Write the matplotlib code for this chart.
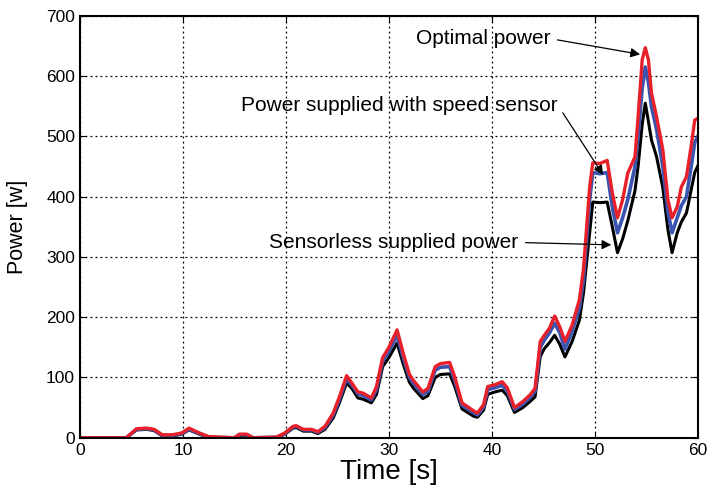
import matplotlib
matplotlib.use('Agg')
import matplotlib.pyplot as plt

plt.rcParams['font.family'] = ['Liberation Sans', 'DejaVu Sans']

# time axis [s]
t = [0, 4.5, 5.5, 6.5, 7.2, 8.0, 9.0, 9.9, 10.6, 11.6,
     12.5, 15.0, 15.5, 16.2, 16.8, 19.1, 19.9, 20.7, 21.0, 21.7,
     22.5, 23.1, 23.8, 24.6, 25.2, 25.9, 26.4, 27.0, 27.5, 28.3,
     28.8, 29.4, 30.0, 30.8, 31.4, 32.0, 32.4, 33.3, 33.8, 34.5,
     35.0, 35.9, 36.4, 37.1, 38.2, 38.6, 39.2, 39.6, 40.3, 41.0,
     41.5, 42.2, 43.0, 43.7, 44.2, 44.7, 45.1, 45.6, 46.1, 46.6,
     47.1, 47.8, 48.5, 48.9, 49.5, 49.8, 50.5, 51.2, 51.7, 52.2,
     52.7, 53.2, 53.9, 54.2, 54.6, 54.9, 55.2, 55.5, 56.0, 56.6,
     57.1, 57.5, 58.0, 58.4, 58.9, 59.4, 59.7, 60.0]

# optimal power [W]
optimal = [0, 0, 15, 16, 14, 5, 5, 8, 16, 8,
           2, 0, 6, 6, 0, 1, 8, 19, 20, 14,
           14, 10, 19, 41, 68, 103, 91, 76, 74, 66,
           85, 133, 150, 179, 140, 105, 95, 76, 82, 118,
           123, 125, 101, 58, 45, 41, 55, 85, 88, 93,
           83, 50, 60, 71, 82, 160, 170, 182, 202, 184,
           160, 187, 229, 280, 416, 456, 455, 460, 406, 365,
           395, 439, 466, 532, 627, 647, 627, 572, 532, 478,
           395, 365, 383, 416, 433, 489, 527, 530]

# power supplied with speed sensor [W]
with_sensor = [0, 0, 14, 15, 13, 4, 4, 7, 14, 7,
               1, 0, 5, 5, 0, 1, 7, 18, 19, 13,
               13, 9, 17, 38, 64, 98, 88, 73, 70, 63,
               80, 127, 143, 170, 133, 100, 90, 72, 77, 112,
               117, 118, 95, 54, 42, 38, 51, 80, 83, 87,
               78, 47, 56, 67, 77, 150, 162, 174, 190, 174,
               147, 177, 215, 262, 395, 440, 438, 440, 383, 340,
               365, 395, 450, 500, 580, 615, 590, 549, 511, 450,
               375, 340, 365, 385, 400, 455, 490, 500]

# sensorless supplied power [W]
sensorless = [0, 0, 13, 14, 12, 3, 3, 6, 13, 6,
              0, 0, 4, 4, 0, 0, 6, 16, 17, 11,
              11, 7, 14, 33, 58, 91, 82, 66, 64, 58,
              72, 118, 133, 157, 122, 92, 82, 65, 70, 100,
              105, 106, 85, 48, 36, 34, 46, 72, 76, 79,
              70, 42, 50, 60, 68, 135, 148, 158, 170, 155,
              134, 160, 195, 240, 340, 391, 390, 391, 350, 307,
              330, 360, 410, 450, 520, 555, 525, 494, 466, 415,
              345, 307, 340, 358, 373, 415, 440, 451]

fig = plt.figure(figsize=(7.07, 4.93), dpi=100)
ax = fig.add_axes([0.113, 0.112, 0.874, 0.856])

ax.plot(t, sensorless, color='black', lw=2.2)
ax.plot(t, with_sensor, color='#3a55b0', lw=2.6)
ax.plot(t, optimal, color='#e8202a', lw=2.4)

ax.set_xlim(0, 60)
ax.set_ylim(0, 700)
ax.set_xticks(range(0, 61, 10))
ax.set_yticks(range(0, 701, 100))
ax.grid(True, color='black', linestyle=(0, (1.5, 2.5)), linewidth=0.9)
ax.tick_params(direction='in', labelsize=12.5, length=4, top=True, right=True)
for s in ax.spines.values():
    s.set_linewidth(1.5)

ax.set_xlabel('Time [s]', fontsize=20, labelpad=1)
ax.set_ylabel('Power [w]', fontsize=15.5, labelpad=13)

arrow = dict(arrowstyle='-|>', color='black', lw=0.9, mutation_scale=14,
             shrinkA=3, shrinkB=0, relpos=(1.0, 0.5))
ax.annotate('Optimal power', xy=(54.4, 636), xytext=(45.7, 662),
            ha='right', va='center', fontsize=15, arrowprops=arrow)
ax.annotate('Power supplied with speed sensor', xy=(50.8, 436), xytext=(46.4, 552),
            ha='right', va='center', fontsize=15, arrowprops=arrow)
ax.annotate('Sensorless supplied power', xy=(51.6, 320), xytext=(42.6, 324),
            ha='right', va='center', fontsize=15, arrowprops=arrow)

fig.savefig('out.png', dpi=100)
